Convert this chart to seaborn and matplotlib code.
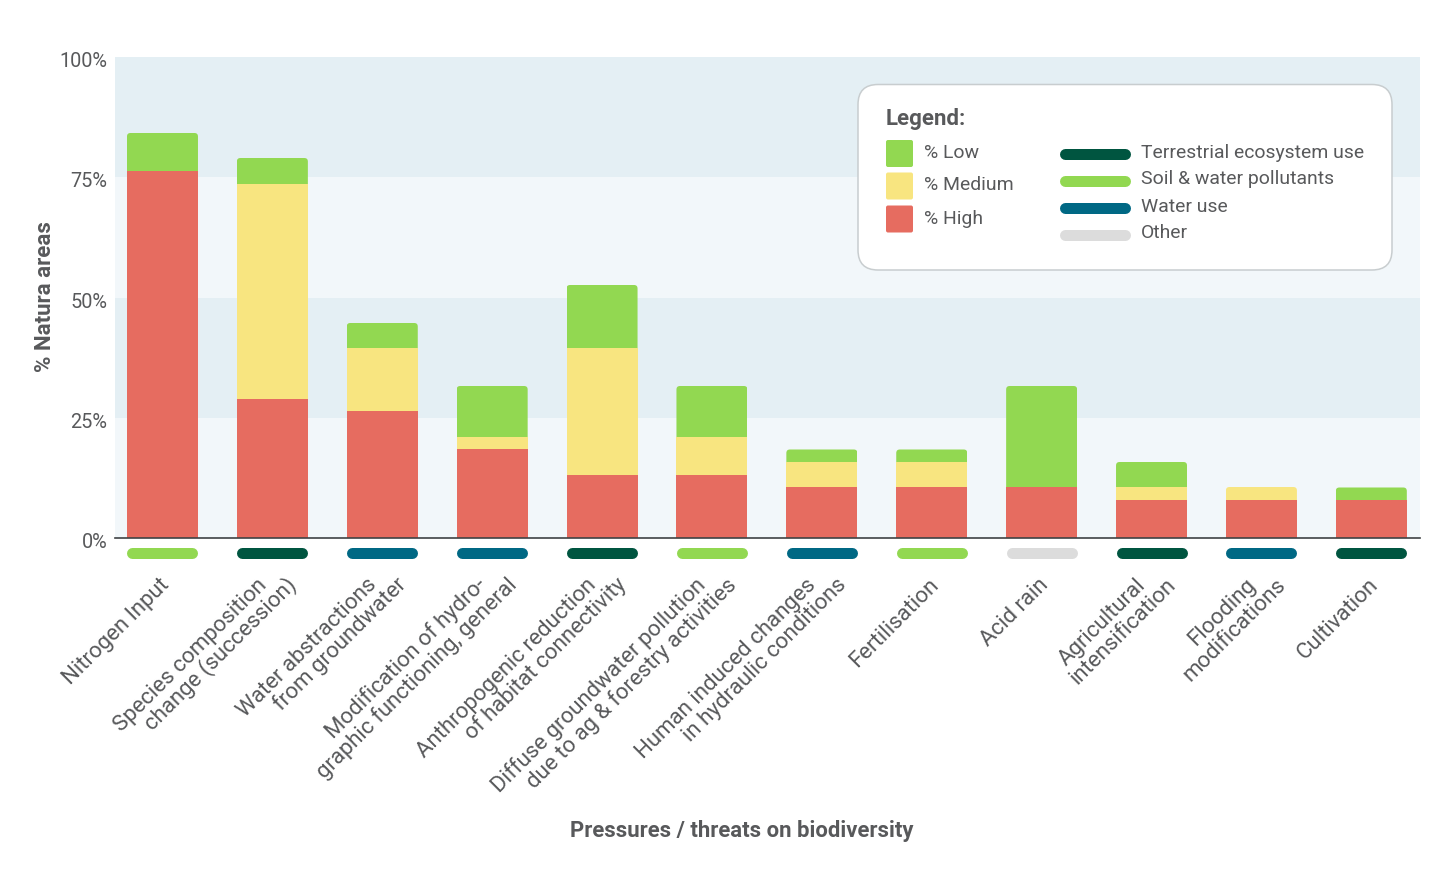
import numpy as np
import pandas as pd
import matplotlib
matplotlib.use("Agg")
import matplotlib.pyplot as plt
import matplotlib.transforms as mtrans
from matplotlib.patches import FancyBboxPatch
from matplotlib.lines import Line2D
import seaborn as sns

categories = ["Nitrogen Input", "Species composition\nchange (succession)", "Water abstractions\nfrom groundwater",
              "Modification of hydro-\ngraphic functioning, general", "Anthropogenic reduction\nof habitat connectivity",
              "Diffuse groundwater pollution\ndue to ag & forestry activities", "Human induced changes\nin hydraulic conditions",
              "Fertilisation", "Acid rain", "Agricultural\nintensification", "Flooding\nmodifications", "Cultivation"]
high = [76.3, 28.9, 26.3, 18.4, 13.2, 13.2, 10.5, 10.5, 10.5, 7.9, 7.9, 7.9]
medium = [0, 44.8, 13.2, 2.6, 26.3, 7.9, 5.3, 5.3, 0, 2.6, 2.7, 0]
low = [7.9, 5.3, 5.2, 10.6, 13.1, 10.5, 2.6, 2.6, 21.1, 5.3, 0, 2.6]
groups = ["Soil & water pollutants", "Terrestrial ecosystem use", "Water use", "Water use", "Terrestrial ecosystem use",
          "Soil & water pollutants", "Water use", "Soil & water pollutants", "Other", "Terrestrial ecosystem use",
          "Water use", "Terrestrial ecosystem use"]
yticks = [0, 25, 50, 75, 100]
severity_colors = {"% Low": "#92D851", "% Medium": "#F8E580", "% High": "#E66C60"}
group_colors = {"Terrestrial ecosystem use": "#005540", "Soil & water pollutants": "#92D851",
                "Water use": "#006884", "Other": "#DCDCDC"}
TEXT = "#58595B"

sns.set_theme(style="white")
plt.rcParams["font.family"] = ["Roboto", "DejaVu Sans"]

W, H = 1454, 875
fig = plt.figure(figsize=(W / 100, H / 100), dpi=100, facecolor="white")
ax = fig.add_axes([115 / W, 1 - 538 / H, (1420 - 115) / W, (538 - 57) / H])
ax.set_facecolor("white")

for lo, c in zip([0, 25, 50, 75], ["#F2F7FA", "#E4EFF4", "#F2F7FA", "#E4EFF4"]):
    ax.axhspan(lo, lo + 25, color=c, lw=0, zorder=0)

df = pd.DataFrame({"cat": categories, "high": high, "medium": medium, "low": low})
tops = [("% Low", (df.high + df.medium + df.low).where(df.low > 0)),
        ("% Medium", (df.high + df.medium).where(df.medium > 0)),
        ("% High", df.high)]
for name, vals in tops:
    sns.barplot(x=df.cat, y=vals, color=severity_colors[name], width=0.646, saturation=1,
                ax=ax, zorder=2, linewidth=0, order=categories)

ax.set_xlim(-0.432, 11.443)
ax.set_ylim(0, 100)
ax.set_xlabel("")
ax.set_ylabel("")
sns.despine(ax=ax, left=True, top=True, right=True)
ax.spines["bottom"].set_color("#3F4244")
ax.spines["bottom"].set_linewidth(1.2)
ax.spines["bottom"].set_zorder(5)

# small rounded top corners on the outermost segment of each stack
seen = set()
for container in ax.containers:
    for bar in container:
        h = bar.get_height()
        if not np.isfinite(h) or h <= 0:
            continue
        key = round(bar.get_x(), 3)
        if key in seen:
            continue
        seen.add(key)
        (x0, y0), (x1, y1) = ax.transData.transform([(bar.get_x(), 0), (bar.get_x() + bar.get_width(), h)])
        clip = FancyBboxPatch((x0, y0 - 20), x1 - x0, y1 - y0 + 20, boxstyle="round,pad=0,rounding_size=3.5",
                              transform=mtrans.IdentityTransform())
        bar.set_clip_path(clip.get_path(), mtrans.IdentityTransform())

ax.set_yticks(yticks)
ax.set_yticklabels([f"{v}%" for v in yticks], fontsize=14.3, color=TEXT)
ax.tick_params(axis="y", length=0, pad=5.5)
off_y = mtrans.ScaledTranslation(0, -2.6 / 100, fig.dpi_scale_trans)
for t in ax.get_yticklabels():
    t.set_transform(t.get_transform() + off_y)

# threat-group strip under each bar
strip_t = mtrans.blended_transform_factory(ax.transData, ax.transAxes)
for i, g in enumerate(groups):
    ax.add_line(Line2D([i - 0.273, i + 0.273], [-14.5 / 481] * 2, transform=strip_t, color=group_colors[g],
                       lw=11 * 0.72, solid_capstyle="round", clip_on=False))

ax.set_xticks(range(len(categories)))
ax.set_xticklabels([])
ax.tick_params(axis="x", length=0)
# each line of a label is end-anchored at the same height, stepped sideways
for i, c in enumerate(categories):
    lines = c.split("\n")
    for k, line in enumerate(lines):
        dx = 8 if len(lines) == 1 else (-5 + k * 30.5)
        off = mtrans.ScaledTranslation(dx / 100, -48 / 100, fig.dpi_scale_trans)
        ax.text(i, 0, line, transform=strip_t + off, rotation=45, rotation_mode="anchor", ha="right",
                va="baseline", fontsize=16, color=TEXT, clip_on=False)

def P(x, y):
    return (x / W, 1 - y / H)

fig.text(*P(45.5, 297), "% Natura areas", rotation=90, ha="center", va="center", fontsize=16, fontweight="bold", color=TEXT)
fig.text(*P(742, 830.5), "Pressures / threats on biodiversity", ha="center", va="center", fontsize=15.95, fontweight="bold", color=TEXT)

# legend panel (pixel layout)
pix = mtrans.Affine2D().scale(1 / W, -1 / H).translate(0, 1) + fig.transFigure
fig.add_artist(FancyBboxPatch((858 + 20, 84.5 + 20), 534 - 40, 185.5 - 40, boxstyle="round,pad=20", transform=pix,
                              facecolor="white", edgecolor="#C8CDCF", lw=1.1, zorder=6))
fig.text(*P(886, 118.5), "Legend:", fontsize=16, fontweight="bold", color=TEXT, va="center", zorder=7)
for (name, c), yc in zip(severity_colors.items(), [153.5, 186, 219]):
    fig.add_artist(FancyBboxPatch((888, yc - 11.5), 23, 23, boxstyle="round,pad=2", transform=pix,
                                  facecolor=c, edgecolor="none", zorder=7))
    fig.text(*P(924, yc - 0.5), name, fontsize=13.95, color=TEXT, va="center", zorder=7)
for (name, c), yc, ty in zip(group_colors.items(), [153.5, 180.5, 207.5, 234.5], [152.5, 179.5, 206.5, 233.5]):
    fig.add_artist(Line2D([1065, 1125], [yc, yc], transform=pix, color=c, lw=11 * 0.72, solid_capstyle="round", zorder=7))
    fig.text(*P(1141, ty), name, fontsize=13.95, color=TEXT, va="center", zorder=7)

fig.savefig("out.png", dpi=100)
